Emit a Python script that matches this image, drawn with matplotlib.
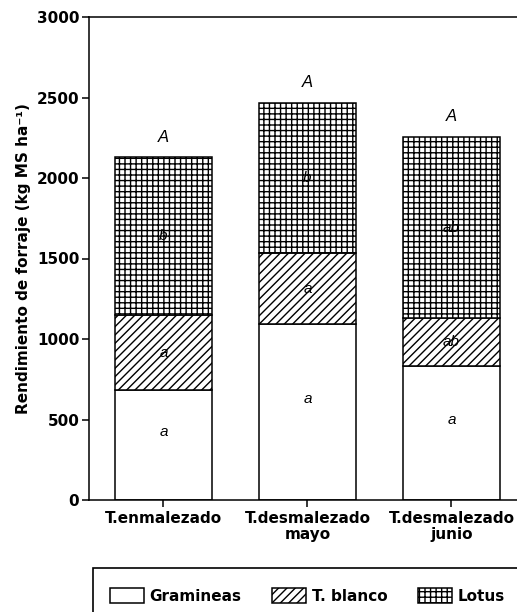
import matplotlib
matplotlib.use('agg')
import matplotlib.pyplot as plt
from matplotlib.patches import Rectangle
import numpy as np

# data
treatments = ["T.enmalezado", "T.desmalezado\nmayo", "T.desmalezado\njunio"]
gramineas = [683, 1093, 832]
t_blanco = [466, 441, 298]
lotus = [981, 932, 1125]
letters_gram = ["a", "a", "a"]
letters_blanco = ["a", "a", "ab"]
letters_lotus = ["b", "b", "ab"]
letters_total = ["A", "A", "A"]

plt.rcParams['font.family'] = ['DejaVu Sans']
plt.rcParams['font.weight'] = 'bold'
plt.rcParams['hatch.linewidth'] = 1.0
plt.rcParams['axes.linewidth'] = 1.1

fig = plt.figure(figsize=(5.17, 6.12), dpi=100)
axis = fig.add_axes([89 / 517, 1 - 500 / 612, 471 / 517, 483 / 612])

x = np.arange(len(treatments))
width = 0.67
g = np.array(gramineas)
b = np.array(t_blanco)
l = np.array(lotus)

bars_g = axis.bar(x, g, width, color="white", edgecolor="black", linewidth=1.1, label="Gramineas")
bars_b = axis.bar(x, b, width, bottom=g, color="white", edgecolor="black", linewidth=1.1,
                  hatch="////", label="T. blanco")
bars_l = axis.bar(x, l, width, bottom=g + b, color="white", edgecolor="black", linewidth=1.1,
                  hatch="+++", label="Lotus")

letter_font = dict(family="Liberation Sans", style="italic", weight="normal", fontsize=11,
                   ha="center", va="center")
for i in range(len(x)):
    axis.text(x[i], g[i] / 2 + 80, letters_gram[i], **letter_font)
    axis.text(x[i], g[i] + b[i] / 2, letters_blanco[i], **letter_font)
    axis.text(x[i], g[i] + b[i] + l[i] / 2, letters_lotus[i], **letter_font)
    axis.annotate(letters_total[i], (x[i], g[i] + b[i] + l[i]), xytext=(0, 9),
                  textcoords="offset points", family="Liberation Sans", style="italic",
                  weight="normal", fontsize=12, ha="center", va="bottom")

axis.set_xlim(-0.517, 2.754)
axis.set_ylim(0, 3000)
axis.set_yticks([0, 500, 1000, 1500, 2000, 2500, 3000])
axis.set_xticks(x)
axis.set_xticklabels(treatments, fontsize=11, fontweight="bold", linespacing=1.1)
axis.tick_params(axis="y", labelsize=11, length=5, width=1.1, pad=2)
axis.tick_params(axis="x", length=5, width=1.1, pad=3)
axis.set_ylabel("Rendimiento de forraje (kg MS ha\u207b\u00b9)", fontsize=11,
                fontweight="bold", labelpad=4)

# legend box (runs off the page like the original)
fig.patches.append(Rectangle((93 / 517, -0.05), 1.0, (612 - 568) / 612 + 0.05,
                             transform=fig.transFigure, fill=False, lw=1.2,
                             edgecolor="black"))
fig.legend(handles=[bars_g, bars_b, bars_l], loc="center left",
           bbox_to_anchor=(110 / 517, 1 - 596 / 612), ncol=3, frameon=False,
           borderpad=0, borderaxespad=0, handlelength=2.2, handleheight=1.1,
           handletextpad=0.4, columnspacing=2.0, prop={"size": 11, "weight": "bold"})

plt.savefig("out.png", dpi=100)
